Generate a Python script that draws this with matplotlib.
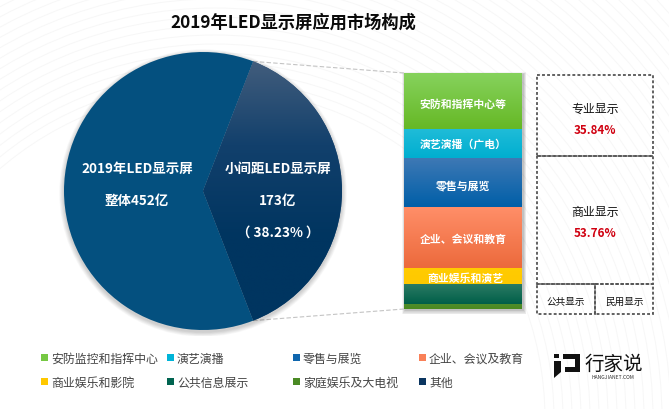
import numpy as np
import matplotlib
matplotlib.use("Agg")
import matplotlib.pyplot as plt
from matplotlib.patches import Rectangle, Circle, Polygon
from matplotlib.colors import LinearSegmentedColormap

plt.rcParams['font.family'] = ['Noto Sans CJK SC', 'DejaVu Sans']

title = "2019年LED显示屏应用市场构成"
pie_values = [38.23, 61.77]
stack_labels = ["安防和指挥中心等", "演艺演播（广电）", "零售与展览", "企业、会议和教育", "商业娱乐和演艺", "", "", ""]
stack_values = [23.7, 12.14, 20.8, 25.8, 7.16, 8.4, 1.8, 0.2]
stack_top = ["#86d25c", "#1fbcd8", "#3f79b5", "#ff8e68", "#ffcc00", "#2b7a64", "#4f8c2a", "#0b3560"]
stack_bottom = ["#66b826", "#00aed0", "#005fa8", "#ec6a3c", "#ffc800", "#005f48", "#4a8a20", "#0b3560"]
legend_labels = ["安防监控和指挥中心", "演艺演播", "零售与展览", "企业、会议及教育",
                 "商业娱乐和影院", "公共信息展示", "家庭娱乐及大电视", "其他"]
legend_colors = ["#76c843", "#00b4d8", "#0f66ae", "#f98058", "#ffc800", "#006450", "#4a8a24", "#0b3560"]
groups = [("专业显示", "35.84%"), ("商业显示", "53.76%")]
small_groups = ["公共显示", "民用显示"]

W, H = 669, 410
fig = plt.figure(figsize=(W/100, H/100), dpi=100, facecolor="white")

def px_axes(x0, y0, x1, y1):
    return fig.add_axes([x0/W, 1-y1/H, (x1-x0)/W, (y1-y0)/H])

# overlay in pixel coordinates
ov = fig.add_axes([0, 0, 1, 1], zorder=0)
ov.set_xlim(0, W); ov.set_ylim(H, 0); ov.axis("off")
for r in range(330, 760, 9):
    ov.add_patch(Circle((215, 420), r, fill=False, ec="#f7f7f7", lw=0.7))

# connectors
cx, cy, R = 203, 192, 139
ang = np.deg2rad(pie_values[0]/100*180)
for sgn, ye in ((-1, 74), (1, 310)):
    ov.plot([cx+R*np.cos(ang), 404], [cy+sgn*R*np.sin(ang), ye], color="#c4c4c4", lw=0.8, ls=(0, (4, 2)))

# pie
pax = px_axes(cx-R-6, cy-R-6, cx+R+6, cy+R+6)
pax.set_zorder(1)
pax.axis("off")
for i in range(8, 0, -1):
    pax.add_patch(Circle((0, -2), R+i*0.6, fc="#000000", ec="none", alpha=0.025))
start = -pie_values[0]/100*180
wedges, _ = pax.pie(pie_values, startangle=start, radius=R, colors=["#244f78", "#04507f"],
                    wedgeprops=dict(lw=0), center=(0, 0), frame=False)
cm = LinearSegmentedColormap.from_list("p", ["#47607e", "#12406c", "#003560", "#003560"])
im = pax.imshow(np.linspace(0, 1, 256)[:, None], cmap=cm, extent=(-R, R, -R, R),
                origin="upper", aspect="auto", zorder=2)
im.set_clip_path(wedges[0])
pax.set_aspect("equal")
pax.set_xlim(-(R+6), R+6); pax.set_ylim(-(R+6), R+6)

# stacked bar
bx0, bx1, by0, by1 = 404, 522, 74, 310
for i in range(6, 0, -1):
    ov.add_patch(Rectangle((bx0-i*0.5+1, by0-i*0.3+1), bx1-bx0+i, by1-by0+i, fc="black", ec="none", alpha=0.045))
bax = px_axes(bx0, by0, bx1, by1)
bax.set_zorder(1)
bax.axis("off")
bottom = 0
centers = []
for v, ct, cb in zip(stack_values, stack_top, stack_bottom):
    b = bax.bar(0.5, v, 1.0, bottom=bottom, color=cb, lw=0)[0]
    g = bax.imshow(np.linspace(0, 1, 64)[:, None],
                   cmap=LinearSegmentedColormap.from_list("g", [ct, cb]),
                   extent=(0, 1, bottom+v, bottom), aspect="auto", zorder=2)
    g.set_clip_path(b)
    centers.append(bottom+v/2)
    bottom += v
bax.set_xlim(0, 1); bax.set_ylim(sum(stack_values), 0)
label_shift = [(0, -3), (0, 0), (0, -3), (0, -2), (2, -2), (0, 0), (0, 0), (0, 0)]
for lab, c, sh in zip(stack_labels, centers, label_shift):
    if lab:
        bax.annotate(lab, (0.5, c), xytext=(sh[0]*0.72, sh[1]*0.72), textcoords="offset points",
                     color="white", fontsize=7.8, fontweight="bold",
                     ha="center", va="center", zorder=5)

# text overlay
tx = fig.add_axes([0, 0, 1, 1], zorder=3)
tx.set_xlim(0, W); tx.set_ylim(H, 0); tx.axis("off")
tx.text(293, 23, title, fontsize=12.4, fontweight="bold", color="#0a0a0a", ha="center", va="center")
for x, y, s in [(137, 169, "2019年LED显示屏"), (137, 201, "整体452亿"),
                (278, 169, "小间距LED显示屏"), (278, 201, "173亿"), (278, 233, "（ 38.23% ）")]:
    tx.text(x, y, s, color="white", fontsize=9.7, fontweight="bold", ha="center", va="center")

# dashed boxes
dash = dict(fill=False, ec="#555555", lw=1.3, ls=(0, (1.6, 1.2)))
for (x, y, w, h) in [(537, 76, 116, 81), (537, 157, 116, 128), (537, 285, 58, 30), (595, 285, 58, 30)]:
    tx.add_patch(Rectangle((x, y), w, h, **dash))
for (name, pct), y1, y2 in zip(groups, (109, 213), (131, 234)):
    tx.text(595, y1, name, fontsize=8.6, color="#111111", ha="center", va="center")
    tx.text(595, y2, pct, fontsize=8.4, fontweight="bold", color="#d00010", ha="center", va="center")
for name, x in zip(small_groups, (566, 625)):
    tx.text(x, 302.5, name, fontsize=6.9, color="#111111", ha="center", va="center")

# legend
xs = [41, 167, 293, 419]
ys = [359, 383]
for i, (lab, col) in enumerate(zip(legend_labels, legend_colors)):
    x = xs[i % 4]; y = ys[i // 4]
    tx.add_patch(Rectangle((x, y-4), 7, 7, fc=col, ec="none"))
    tx.text(x+10, y+0.5, lab, fontsize=8.6, color="#444444", ha="left", va="center")

# logo
tx.add_patch(Polygon([(554, 355), (559, 355), (559, 359), (554, 359)], fc="#111111", ec="none"))
tx.add_patch(Polygon([(554, 362), (561, 362), (561, 373), (554, 379)], fc="#111111", ec="none"))
tx.add_patch(Polygon([(563, 355), (580, 355), (580, 373), (565, 373), (565, 368), (575, 368), (575, 360), (563, 360)], fc="#111111", ec="none"))
tx.text(614, 364.5, "行家说", fontsize=14, color="#111111", ha="center", va="center")
tx.text(613, 378, "HANGJIANET.COM", fontsize=3.6, color="#333333", ha="center", va="center")

fig.savefig("out.png", dpi=100)
